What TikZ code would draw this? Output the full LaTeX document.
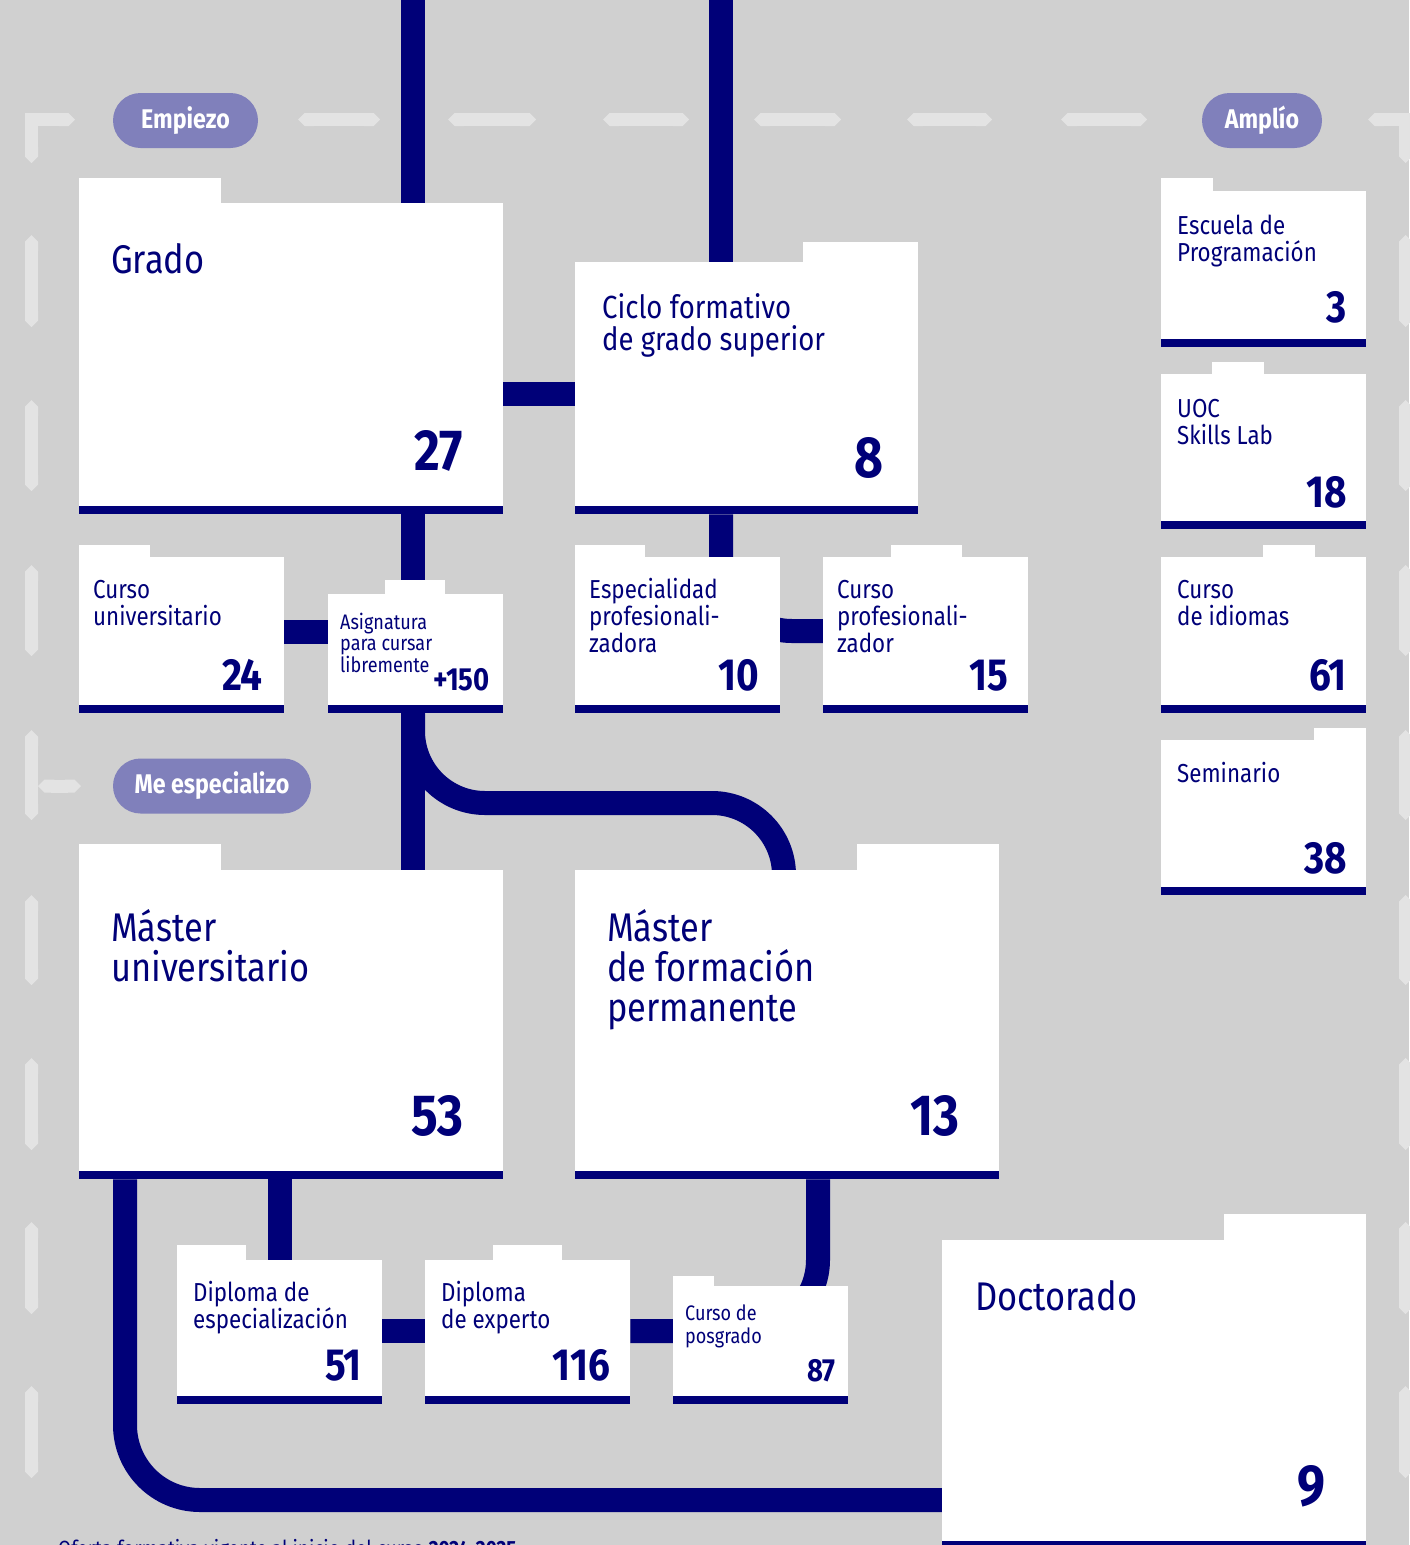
\documentclass[tikz,border=0pt]{standalone}
\usepackage{fontspec}
\setmainfont{Fira Sans}[FakeStretch=0.86]
\usetikzlibrary{arrows.meta}
\usetikzlibrary{positioning}

\definecolor{azul}{RGB}{0,0,120}
\definecolor{lila}{RGB}{128,128,187}
\definecolor{fondo}{RGB}{208,208,208}
\definecolor{grisGuion}{RGB}{227,227,227}

\newcommand{\fGrande}{\fontsize{40}{40}\selectfont}
\newcommand{\fMedio}{\fontsize{32}{32}\selectfont}
\newcommand{\fFicha}{\fontsize{26}{27}\selectfont}
\newcommand{\fMini}{\fontsize{21}{21.5}\selectfont}
\newcommand{\fPosgrado}{\fontsize{21}{23}\selectfont}
\newcommand{\nGrande}{\bfseries\fontsize{58}{58}\selectfont}
\newcommand{\nFicha}{\bfseries\fontsize{45}{45}\selectfont}
\newcommand{\nMini}{\bfseries\fontsize{32}{32}\selectfont}

\pgfdeclarelayer{base}
\pgfdeclarelayer{vias}
\pgfsetlayers{base,vias,main}

\tikzset{
  ficha/.style={fill=white, inner sep=0pt, anchor=north west,
    path picture={\fill[azul] ([yshift=8pt]path picture bounding box.south west)
      rectangle (path picture bounding box.south east);}},
  pestana/.style={fill=white},
  via/.style={draw=azul, line width=24pt},
  guion/.style={draw=grisGuion, line width=13pt, line join=miter,
    arrows={Triangle Cap-Triangle Cap}},
  etapa/.style={fill=lila, text=white, rounded corners=27.5pt,
    minimum height=55pt, inner sep=0pt,
    font=\bfseries\fontsize{27}{27}\selectfont},
  titulo/.style={anchor=base west, align=left, inner sep=0pt, text=azul},
  cifra/.style={anchor=base east, inner sep=0pt, text=azul}
}

\begin{document}
\begin{tikzpicture}[x=1pt, y=-1pt]

    \useasboundingbox (0,0) rectangle (1409,1545);

    % fichas (texto anclado en la base de su ultima linea)
    \node[ficha, minimum width=424pt, minimum height=311pt] (grado) at (79,203) {};
    \fill[pestana] (grado.north west) rectangle ++(142,-25);
    \node[titulo, font=\fGrande] (gradoTxt) at (111,273) {Grado};
    \node[cifra, font=\nGrande] (gradoNum) at (463,470) {27};

    \node[ficha, minimum width=343pt, minimum height=252pt] (ciclo) at (575,262) {};
    \fill[pestana] ([xshift=228pt]ciclo.north west) rectangle ++(115,-20);
    \node[titulo, font=\fMedio] (cicloTxt) at (602,350)
      {Ciclo formativo\\de grado superior};
    \node[cifra, font=\nGrande] (cicloNum) at (884,477) {8};

    \node[ficha, minimum width=205pt, minimum height=156pt] (escuela) at (1161,191) {};
    \fill[pestana] (escuela.north west) rectangle ++(52,-13);
    \node[titulo, font=\fFicha] (escuelaTxt) at (1177,261)
      {Escuela de\\Programación};
    \node[cifra, font=\nFicha] (escuelaNum) at (1347,322) {3};

    \node[ficha, minimum width=205pt, minimum height=155pt] (uoc) at (1161,374) {};
    \fill[pestana] ([xshift=51pt]uoc.north west) rectangle ++(52,-12);
    \node[titulo, font=\fFicha] (uocTxt) at (1177,444) {UOC\\Skills Lab};
    \node[cifra, font=\nFicha] (uocNum) at (1347,507) {18};

    \node[ficha, minimum width=205pt, minimum height=156pt] (idiomas) at (1161,557) {};
    \fill[pestana] ([xshift=102pt]idiomas.north west) rectangle ++(52,-12);
    \node[titulo, font=\fFicha] (idiomasTxt) at (1177,625) {Curso\\de idiomas};
    \node[cifra, font=\nFicha] (idiomasNum) at (1347,690) {61};

    \node[ficha, minimum width=205pt, minimum height=155pt] (seminario) at (1161,740) {};
    \fill[pestana] ([xshift=153pt]seminario.north west) rectangle ++(52,-12);
    \node[titulo, font=\fFicha] (seminarioTxt) at (1177,782) {Seminario};
    \node[cifra, font=\nFicha] (seminarioNum) at (1347,873) {38};

    \node[ficha, minimum width=205pt, minimum height=156pt] (cursoUni) at (79,557) {};
    \fill[pestana] (cursoUni.north west) rectangle ++(71,-12);
    \node[titulo, font=\fFicha] (cursoUniTxt) at (93,625) {Curso\\universitario};
    \node[cifra, font=\nFicha] (cursoUniNum) at (263,690) {24};

    \node[ficha, minimum width=175pt, minimum height=119pt] (asignatura) at (328,594) {};
    \fill[pestana] ([xshift=57pt]asignatura.north west) rectangle ++(60,-14);
    \node[titulo, font=\fMini] (asignaturaTxt) at (340,672)
      {Asignatura\\para cursar\\libremente};
    \node[cifra, font=\nMini] (asignaturaNum) at (490,690) {+150};

    \node[ficha, minimum width=205pt, minimum height=156pt] (especialidad) at (575,557) {};
    \fill[pestana] (especialidad.north west) rectangle ++(70,-12);
    \node[titulo, font=\fFicha] (especialidadTxt) at (589,652)
      {Especialidad\\profesionali-\\zadora};
    \node[cifra, font=\nFicha] (especialidadNum) at (759,690) {10};

    \node[ficha, minimum width=205pt, minimum height=156pt] (cursoProf) at (823,557) {};
    \fill[pestana] ([xshift=68pt]cursoProf.north west) rectangle ++(71,-12);
    \node[titulo, font=\fFicha] (cursoProfTxt) at (837,652)
      {Curso\\profesionali-\\zador};
    \node[cifra, font=\nFicha] (cursoProfNum) at (1008,690) {15};

    \node[ficha, minimum width=424pt, minimum height=309pt] (masterUni) at (79,870) {};
    \fill[pestana] (masterUni.north west) rectangle ++(142,-26);
    \node[titulo, font=\fGrande] (masterUniTxt) at (111,981)
      {Máster\\universitario};
    \node[cifra, font=\nGrande] (masterUniNum) at (464,1135) {53};

    \node[ficha, minimum width=424pt, minimum height=309pt] (masterPerm) at (575,870) {};
    \fill[pestana] ([xshift=282pt]masterPerm.north west) rectangle ++(142,-26);
    \node[titulo, font=\fGrande] (masterPermTxt) at (607,1021)
      {Máster\\de formación\\permanente};
    \node[cifra, font=\nGrande] (masterPermNum) at (960,1135) {13};

    \node[ficha, minimum width=205pt, minimum height=144pt] (diplomaEsp) at (177,1260) {};
    \fill[pestana] (diplomaEsp.north west) rectangle ++(69,-15);
    \node[titulo, font=\fFicha] (diplomaEspTxt) at (193,1328)
      {Diploma de\\especialización};
    \node[cifra, font=\nFicha] (diplomaEspNum) at (362,1380) {51};

    \node[ficha, minimum width=205pt, minimum height=144pt] (diplomaExp) at (425,1260) {};
    \fill[pestana] ([xshift=68pt]diplomaExp.north west) rectangle ++(69,-15);
    \node[titulo, font=\fFicha] (diplomaExpTxt) at (441,1328)
      {Diploma\\de experto};
    \node[cifra, font=\nFicha] (diplomaExpNum) at (610,1380) {116};

    \node[ficha, minimum width=175pt, minimum height=118pt] (posgrado) at (673,1286) {};
    \fill[pestana] (posgrado.north west) rectangle ++(41,-10);
    \node[titulo, font=\fPosgrado] (posgradoTxt) at (685,1343)
      {Curso de\\posgrado};
    \node[cifra, font=\nMini] (posgradoNum) at (836,1381) {87};

    \node[ficha, minimum width=424pt, minimum height=309pt] (doctorado) at (942,1240) {};
    \fill[pestana] ([xshift=282pt]doctorado.north west) rectangle ++(142,-26);
    \node[titulo, font=\fGrande] (doctoradoTxt) at (975,1310) {Doctorado};
    \node[cifra, font=\nGrande] (doctoradoNum) at (1326,1505) {9};

    % etapas
    \node[etapa, minimum width=145pt] (empiezo) at (185.5,120.5) {Empiezo};
    \node[etapa, minimum width=120pt] (amplio) at (1262,120.5) {Amplío};
    \node[etapa, minimum width=198pt] (especializo) at (212,786) {Me especializo};

    \node[titulo, font=\fontsize{22}{22}\selectfont] (nota) at (58,1556)
      {Oferta formativa vigente al inicio del curso \textbf{2024-2025}};

    % vias
    \begin{pgfonlayer}{vias}
      \coordinate (origenA) at (413,-10);
      \coordinate (origenB) at (721,-10);
      \coordinate (curvaC) at (784,803);
      \draw[via] (origenA) -- (origenA |- grado.north);
      \draw[via] (origenB) -- (origenB |- ciclo.north);
      \draw[via] (grado.east |- 0,394) -- (ciclo.west |- 0,394);
      \draw[via] (origenA |- grado.south) -- (origenA |- asignatura.north);
      \draw[via] (cursoUni.east |- 0,632) -- (asignatura.west |- 0,632);
      \draw[via, rounded corners=71pt] (origenB |- ciclo.south)
        -- (origenB |- 0,631) -- (cursoProf.west |- 0,631);
      \draw[via] (origenA |- asignatura.south) -- (origenA |- masterUni.north);
      \draw[via, rounded corners=72pt] (origenA |- asignatura.south)
        -- (origenA |- curvaC) -- (curvaC)
        -- ([yshift=-12pt]curvaC |- masterPerm.north);
      \draw[via, rounded corners=75pt] (125,0 |- masterUni.south)
        -- (125,1500) -- (doctorado.west |- 0,1500);
      \draw[via] (280,0 |- masterUni.south) -- (280,0 |- diplomaEsp.north);
      \draw[via] (diplomaEsp.east |- 0,1331) -- (diplomaExp.west |- 0,1331);
      \draw[via, rounded corners=71pt] (818,0 |- masterPerm.south)
        -- (818,1331) -- (diplomaExp.east |- 0,1331);
    \end{pgfonlayer}

    % fondo y marco
    \begin{pgfonlayer}{base}
      \fill[fondo] (0,0) rectangle (1409,1545);
      \draw[guion] (31.5,163) -- (31.5,119.5) -- (75,119.5);
      \draw[guion] (1405.5,163) -- (1405.5,119.5) -- (1368,119.5);
      \draw[guion] (31.5,730) -- (31.5,820);
      \draw[guion] (38,786) -- (81,786);
      \foreach \a/\b in {298/380, 448/536, 603/689, 754/841, 907/992, 1061/1147}
        \draw[guion] (\a,119.5) -- (\b,119.5);
      \foreach \a/\b in {235/327, 400/491, 565/656, 895/985, 1058/1150,
                         1222/1314, 1386/1478}
        \draw[guion] (31.5,\a) -- (31.5,\b);
      \foreach \a/\b in {235/327, 400/491, 565/656, 730/820, 895/985,
                         1058/1150, 1222/1314, 1386/1478}
        \draw[guion] (1405.5,\a) -- (1405.5,\b);
    \end{pgfonlayer}

  \end{tikzpicture}
\end{document}
